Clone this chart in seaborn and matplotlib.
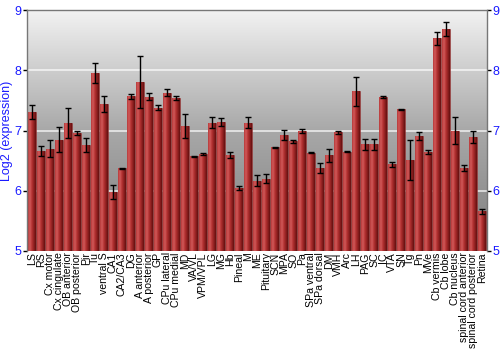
import numpy as np
import pandas as pd
import matplotlib
matplotlib.use("Agg")
import matplotlib.pyplot as plt
import seaborn as sns
from matplotlib.colors import LinearSegmentedColormap

regions = ["LS", "RS", "Cx motor", "Cx cingulate", "OB anterior", "OB posterior", "Pir", "Tu",
           "ventral S", "CA1", "CA2/CA3", "DG", "A anterior", "A posterior", "GP", "CPu lateral",
           "CPu medial", "MD", "VA/VL", "VPM/VPL", "LG", "MG", "Hb", "Pineal", "M", "ME",
           "Pituitary", "SCN", "MPA", "SO", "Pa", "SPa ventral", "SPa dorsal", "DM", "VMH", "Arc",
           "LH", "PAG", "SC", "IC", "VTA", "SN", "Tg", "Pn", "MVe", "Cb vermis", "Cb lobe",
           "Cb nucleus", "spinal cord anterior", "spinal cord posterior", "Retina"]
expression = [7.31, 6.66, 6.70, 6.85, 7.13, 6.96, 6.76, 7.96,
              7.44, 5.98, 6.37, 7.57, 7.81, 7.56, 7.38, 7.63,
              7.54, 7.08, 6.57, 6.61, 7.13, 7.14, 6.59, 6.04, 7.13, 6.17,
              6.20, 6.72, 6.93, 6.82, 6.99, 6.63, 6.38, 6.59, 6.97, 6.65,
              7.65, 6.77, 6.77, 7.56, 6.44, 7.35, 6.51, 6.91, 6.65, 8.53, 8.69,
              7.00, 6.38, 6.90, 5.66]
error = [0.11, 0.09, 0.14, 0.21, 0.25, 0.03, 0.12, 0.17,
         0.14, 0.12, 0.01, 0.04, 0.43, 0.06, 0.04, 0.06,
         0.04, 0.20, 0.01, 0.02, 0.09, 0.07, 0.05, 0.035, 0.09, 0.09,
         0.075, 0.01, 0.08, 0.03, 0.03, 0.01, 0.08, 0.11, 0.02, 0.005,
         0.24, 0.09, 0.09, 0.02, 0.045, 0.015, 0.33, 0.06, 0.035, 0.11, 0.12,
         0.22, 0.05, 0.10, 0.04]
yticks = [5, 6, 7, 8, 9]
ymin, ymax = 5, 9

df = pd.DataFrame({"region": regions, "expr": expression, "err": error})

sns.set_style("white")
plt.rcParams['font.family'] = ['Liberation Sans', 'DejaVu Sans']

fig = plt.figure(figsize=(5, 3.5), dpi=100)
ax = fig.add_axes([0.054, 0.283, 0.92, 0.688])

# background gradient
bg = LinearSegmentedColormap.from_list("bg", ["#7e7e7e", "#a8a8a8", "#f2f2f2"])
grad = np.linspace(0, 1, 256).reshape(-1, 1)
ax.imshow(grad, cmap=bg, aspect="auto", extent=[0, 1, 0, 1], origin="lower",
          transform=ax.transAxes, zorder=0)

for t in [6, 7, 8]:
    ax.axhline(t, color="white", lw=1.2, alpha=0.75, zorder=1)

sns.barplot(data=df, x="region", y="expr", color="#b03434", width=0.88,
            errorbar=None, ax=ax, zorder=2, edgecolor="#8a2a2a", linewidth=0.4)

# cylinder shading on bars
barcmap = LinearSegmentedColormap.from_list("bar", ["#b83a3a", "#d05a5a", "#b53232", "#8e2020", "#641010"])
hgrad = np.linspace(0, 1, 64).reshape(1, -1)
for p in list(ax.patches):
    x0, w = p.get_x(), p.get_width()
    top = p.get_y() + p.get_height()
    im = ax.imshow(hgrad, cmap=barcmap, aspect="auto",
                   extent=[x0, x0 + w, ymin, top], zorder=2.5)
    im.set_clip_path(p)

centers = [p.get_x() + p.get_width() / 2 for p in ax.patches]
ax.errorbar(centers, df["expr"], yerr=df["err"], fmt="none", ecolor="black",
            elinewidth=1, capsize=2.5, capthick=1, zorder=3)

ax.set_xlim(-0.55, len(regions) - 0.45)
ax.set_ylim(ymin, ymax)
ax.set_yticks(yticks)
ax.tick_params(axis="y", colors="#1a1aff", labelsize=9, length=3, width=1,
               left=True, right=True, labelleft=True, labelright=True, pad=1)
ax.tick_params(axis="y", which="both", color="black")
ax.tick_params(axis="x", labelsize=7.6, length=0, pad=1)
ax.set_xticks(range(len(regions)))
ax.set_xticklabels(regions, rotation=90, color="black")
ax.set_xlabel("")
ax.set_ylabel("Log2 (expression)", color="#1a1aff", fontsize=9, labelpad=1)

for s in ["top", "left", "right"]:
    ax.spines[s].set_color("#777777")
    ax.spines[s].set_linewidth(1)
    ax.spines[s].set_visible(True)
ax.spines["bottom"].set_visible(False)

fig.savefig("out.png", dpi=100)
